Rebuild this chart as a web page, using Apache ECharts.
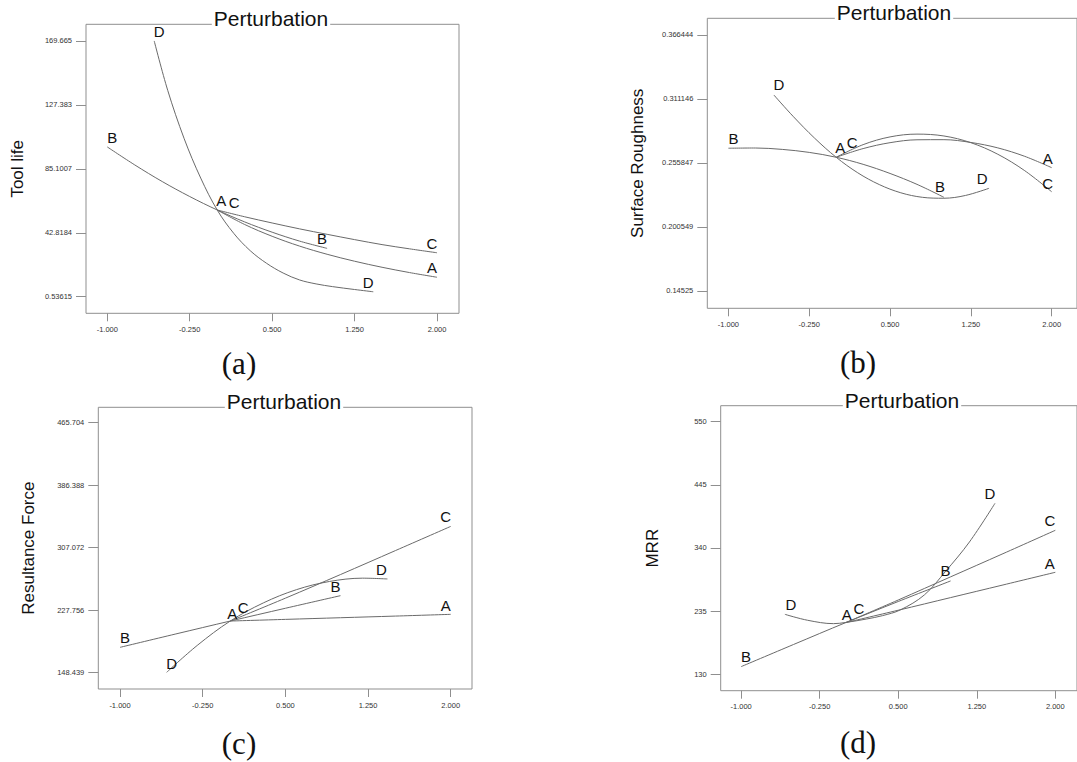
<!DOCTYPE html>
<html><head><meta charset="utf-8">
<script src="https://cdn.jsdelivr.net/npm/echarts@6/dist/echarts.min.js"></script>
<style>html,body{margin:0;padding:0;background:#fff}#c{width:1077px;height:762px}</style>
</head><body><div id="c"></div>
<script>
// ---------- shared tick labels ----------
const xTicks = [-1, -0.25, 0.5, 1.25, 2];

// ---------- (a) Tool life ----------
const yTicksA = [0.53615, 42.8184, 85.1007, 127.383, 169.665];
const a_A_x = [0, 0.25, 0.5, 0.75, 1, 1.25, 1.5, 1.75, 2];
const a_A_y = [57.9, 48.3, 40.5, 34.0, 28.6, 24.0, 20.0, 16.5, 13.4];
const a_B_x = [-1, -0.75, -0.5, -0.25, 0, 0.25, 0.5, 0.75, 1];
const a_B_y = [99.6, 87.7, 76.7, 66.8, 57.9, 50.0, 43.2, 37.3, 32.5];
const a_C_x = [0, 0.25, 0.5, 0.75, 1, 1.25, 1.5, 1.75, 2];
const a_C_y = [57.9, 53.4, 49.3, 45.4, 41.8, 38.3, 35.0, 32.2, 29.6];
const a_D_x = [-0.573, -0.45, -0.3, -0.15, 0, 0.15, 0.3, 0.45, 0.6, 0.75, 0.9, 1.05, 1.25, 1.42];
const a_D_y = [169.7, 137, 105, 79, 57.9, 42.5, 31, 22.6, 16.2, 11.6, 9.0, 7.2, 5.3, 3.8];

// ---------- (b) Surface Roughness ----------
const yTicksB = [0.14525, 0.200549, 0.255847, 0.311146, 0.366444];
const b_A_x = [0, 0.25, 0.5, 0.75, 1, 1.25, 1.5, 1.75, 2];
const b_A_y = [0.2608, 0.2683, 0.2734, 0.2759, 0.2760, 0.2736, 0.2689, 0.2616, 0.2518];
const b_B_x = [-1, -0.75, -0.5, -0.25, 0, 0.25, 0.5, 0.75, 1];
const b_B_y = [0.2686, 0.2688, 0.2676, 0.2650, 0.2608, 0.2547, 0.2468, 0.2374, 0.2262];
const b_C_x = [0, 0.25, 0.5, 0.75, 1, 1.25, 1.5, 1.75, 2];
const b_C_y = [0.2608, 0.2717, 0.2784, 0.2808, 0.2792, 0.2734, 0.2634, 0.2492, 0.2310];
const b_D_x = [-0.578, -0.4, -0.2, 0, 0.2, 0.4, 0.6, 0.8, 1.0, 1.2, 1.419];
const b_D_y = [0.3146, 0.2962, 0.2773, 0.2608, 0.2474, 0.2372, 0.2301, 0.2262, 0.2254, 0.2278, 0.2340];

// ---------- (c) Resultance Force ----------
const yTicksC = [148.439, 227.756, 307.072, 386.388, 465.704];
const c_A_x = [0, 0.5, 1, 1.5, 2];
const c_A_y = [214, 216.1, 218.2, 220.3, 222.5];
const c_B_x = [-1, -0.5, 0, 0.5, 1];
const c_B_y = [180.6, 197.4, 214, 230.2, 246.2];
const c_C_x = [0, 0.5, 1, 1.5, 2];
const c_C_y = [214, 243, 273, 303.5, 334.1];
const c_D_x = [-0.577, -0.3, 0, 0.3, 0.6, 0.9, 1.2, 1.426];
const c_D_y = [148.9, 183, 214, 237, 253.8, 264.2, 268.4, 267.4];

// ---------- (d) MRR ----------
const yTicksD = [130, 235, 340, 445, 550];
const d_A_x = [0, 0.5, 1, 1.5, 2];
const d_A_y = [216, 236.5, 257.5, 278.5, 299.6];
const d_B_x = [-1, -0.5, 0, 0.5, 1];
const d_B_y = [142.7, 179.5, 216, 251, 285.2];
const d_C_x = [0, 0.5, 1, 1.5, 2];
const d_C_y = [216, 253.5, 292, 330.5, 369.4];
const d_D_x = [-0.582, -0.365, -0.118, 0, 0.2, 0.35, 0.52, 0.75, 0.95, 1.18, 1.424];
const d_D_y = [229.7, 219.8, 214.2, 216.2, 222, 227.5, 237, 262, 300.7, 350, 414.3];

const panelTitle = 'Perturbation';
const axisNames = ['Tool life', 'Surface Roughness', 'Resultance Force', 'MRR'];
const panelTags = ['(a)', '(b)', '(c)', '(d)'];

// ---------- layout / style ----------
const FONT = 'Liberation Sans, Arial, sans-serif';
const panels = [
  { grid: {left: 86, top: 24.3, width: 373, height: 289}, xr: [-1.1936, 2.2], yr: [-10.44, 180.71], yt: yTicksA,
    curves: [['A', a_A_x, a_A_y], ['B', a_B_x, a_B_y], ['C', a_C_x, a_C_y], ['D', a_D_x, a_D_y]],
    offs: {A: [[4, -9], [-5, -9.5]], B: [[5, -9.5], [-5, -10]], C: [[17, -7], [-5, -9.5]], D: [[5, -9.5], [-5, -9.5]]},
    title: [271, 18], tag: [239, 363], gap: 60 },
  { grid: {left: 707.3, top: 18.3, width: 380, height: 290}, xr: [-1.196, 2.235], yr: [0.1303, 0.38087], yt: yTicksB,
    curves: [['A', b_A_x, b_A_y], ['B', b_B_x, b_B_y], ['C', b_C_x, b_C_y], ['D', b_D_x, b_D_y]],
    offs: {A: [[4, -10], [-4, -9]], B: [[5, -9.5], [-4, -10.5]], C: [[16, -15], [-4, -8.5]], D: [[5, -10.5], [-7, -10]]},
    title: [894, 12.5], tag: [858, 362], gap: 61 },
  { grid: {left: 98.3, top: 407.3, width: 373.7, height: 281.7}, xr: [-1.197, 2.193], yr: [127.75, 485.25], yt: yTicksC,
    curves: [['A', c_A_x, c_A_y], ['B', c_B_x, c_B_y], ['C', c_C_x, c_C_y], ['D', c_D_x, c_D_y]],
    offs: {A: [[2, -8], [-5, -9]], B: [[5, -10], [-5, -9.5]], C: [[13, -14], [-5, -10]], D: [[5, -9], [-6, -9]]},
    title: [284, 401], tag: [239, 743], gap: 61 },
  { grid: {left: 720.7, top: 405.7, width: 367, height: 285}, xr: [-1.195, 2.207], yr: [102.7, 576.6], yt: yTicksD,
    curves: [['A', d_A_x, d_A_y], ['B', d_B_x, d_B_y], ['C', d_C_x, d_C_y], ['D', d_D_x, d_D_y]],
    offs: {A: [[1, -8], [-5.5, -9]], B: [[5, -10], [-5, -10]], C: [[13, -14], [-5.5, -10]], D: [[6, -10], [-5, -10]]},
    title: [902, 400], tag: [858, 742], gap: 60 }
];

const grids = [], xAxes = [], yAxes = [], series = [], titles = [];
panels.forEach((p, i) => {
  grids.push(Object.assign({show: true, borderColor: '#8f8f8f', borderWidth: 1, backgroundColor: 'transparent'}, p.grid));
  xAxes.push({
    type: 'value', gridIndex: i, min: p.xr[0], max: p.xr[1],
    axisLine: {show: false, onZero: false}, splitLine: {show: false},
    axisTick: {show: true, length: 8, lineStyle: {color: '#8f8f8f'}, customValues: xTicks},
    axisLabel: {customValues: xTicks, formatter: v => v.toFixed(3), fontSize: 7.5, color: '#333', margin: 12, fontFamily: FONT}
  });
  yAxes.push({
    type: 'value', gridIndex: i, min: p.yr[0], max: p.yr[1],
    name: axisNames[i], nameLocation: 'middle', nameGap: p.gap,
    nameTextStyle: {fontSize: 17, color: '#111', fontFamily: FONT},
    axisLine: {show: false, onZero: false}, splitLine: {show: false},
    axisTick: {show: true, length: 10, lineStyle: {color: '#8f8f8f'}, customValues: p.yt},
    axisLabel: {customValues: p.yt, formatter: v => String(v), fontSize: 7.5, color: '#333', margin: 14, fontFamily: FONT}
  });
  p.curves.forEach(([name, xs, ys]) => {
    const o = p.offs[name];
    const data = xs.map((x, k) => {
      const v = [x, ys[k]];
      if (k === 0 || k === xs.length - 1) {
        return {value: v, label: {show: true, formatter: name, position: 'inside', offset: k === 0 ? o[0] : o[1]}};
      }
      return v;
    });
    series.push({
      type: 'line', name: name, xAxisIndex: i, yAxisIndex: i, data: data,
      smooth: 0.35, showSymbol: true, symbol: 'circle', symbolSize: 1,
      itemStyle: {color: 'rgba(0,0,0,0)'},
      lineStyle: {color: '#6a6a6a', width: 1},
      label: {show: false, color: '#111', fontSize: 15, fontFamily: FONT},
      emphasis: {disabled: true}, silent: true, z: 3
    });
  });
  titles.push({
    text: panelTitle, left: p.title[0] - 2, top: p.title[1], textAlign: 'center', textVerticalAlign: 'middle',
    padding: [0, 2], backgroundColor: '#fff',
    textStyle: {fontSize: 21, fontWeight: 'normal', color: '#111', fontFamily: FONT}
  });
  titles.push({
    text: panelTags[i], left: p.tag[0], top: p.tag[1], textAlign: 'center', textVerticalAlign: 'middle', padding: 0,
    textStyle: {fontSize: 31, fontWeight: 'normal', color: '#111', fontFamily: 'Liberation Serif, Times New Roman, serif'}
  });
});

const chart = echarts.init(document.getElementById('c'), null, {renderer: 'svg'});
chart.setOption({
  animation: false,
  backgroundColor: '#fff',
  title: titles,
  grid: grids,
  xAxis: xAxes,
  yAxis: yAxes,
  series: series
});
</script></body></html>
